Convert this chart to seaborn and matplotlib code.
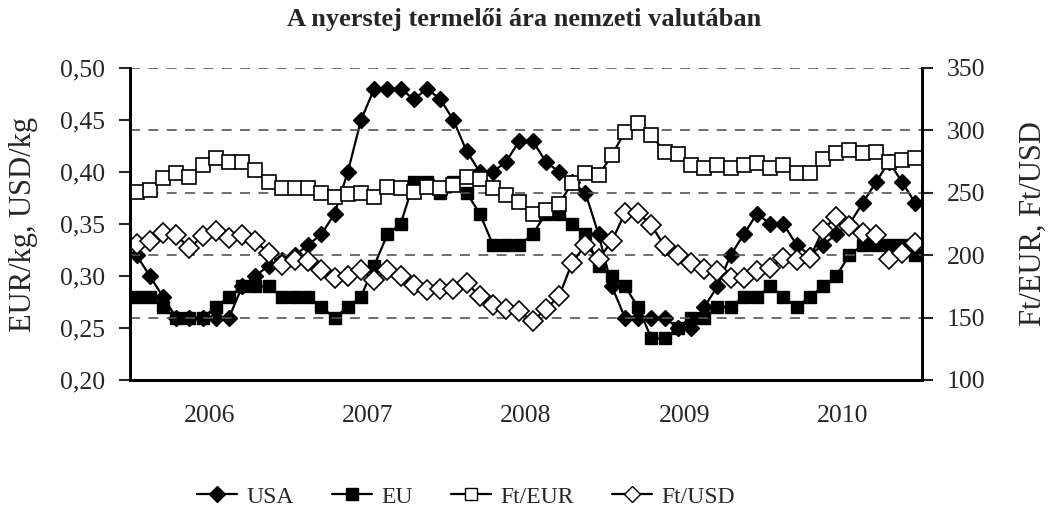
import matplotlib
matplotlib.use('Agg')
import matplotlib.pyplot as plt
import seaborn as sns
import pandas as pd
import numpy as np
from matplotlib.ticker import FuncFormatter, FixedLocator
from matplotlib.lines import Line2D

# monthly values 2006-2010 (60 months)
years = ['2006', '2007', '2008', '2009', '2010']

usa = [0.32, 0.30, 0.28, 0.26, 0.26, 0.26, 0.26, 0.26, 0.29, 0.30,
       0.31, 0.315, 0.32, 0.33, 0.34, 0.36, 0.40, 0.45, 0.48, 0.48,
       0.48, 0.47, 0.48, 0.47, 0.45, 0.42, 0.40, 0.40, 0.41, 0.43,
       0.43, 0.41, 0.40, 0.39, 0.38, 0.34, 0.29, 0.26, 0.26, 0.26,
       0.26, 0.25, 0.25, 0.27, 0.29, 0.32, 0.34, 0.36, 0.35, 0.35,
       0.33, 0.32, 0.33, 0.34, 0.35, 0.37, 0.39, 0.41, 0.39, 0.37]

eu = [0.28, 0.28, 0.27, 0.26, 0.26, 0.26, 0.27, 0.28, 0.29, 0.29,
      0.29, 0.28, 0.28, 0.28, 0.27, 0.26, 0.27, 0.28, 0.31, 0.34,
      0.35, 0.39, 0.39, 0.38, 0.39, 0.38, 0.36, 0.33, 0.33, 0.33,
      0.34, 0.36, 0.36, 0.35, 0.34, 0.31, 0.30, 0.29, 0.27, 0.24,
      0.24, 0.25, 0.26, 0.26, 0.27, 0.27, 0.28, 0.28, 0.29, 0.28,
      0.27, 0.28, 0.29, 0.30, 0.32, 0.33, 0.33, 0.33, 0.33, 0.32]

ft_eur = [251, 252, 262, 266, 263, 272, 278, 275, 275, 268,
          259, 254, 254, 254, 250, 247, 249, 250, 247, 255,
          254, 251, 255, 254, 256, 263, 261, 254, 248, 243,
          233, 236, 241, 258, 266, 264, 280, 299, 306, 296,
          283, 281, 272, 270, 272, 270, 272, 274, 270, 272,
          266, 266, 277, 282, 284, 282, 283, 275, 276, 278]

ft_usd = [209, 211, 218, 216, 206, 215, 219, 214, 216, 211,
          202, 192, 196, 195, 188, 182, 183, 188, 180, 188,
          183, 176, 172, 173, 173, 178, 167, 160, 157, 155,
          147, 157, 167, 194, 208, 197, 211, 234, 234, 224,
          207, 200, 194, 189, 187, 182, 182, 187, 190, 198,
          196, 198, 220, 231, 223, 218, 216, 197, 202, 210]

sns.set_style('white')
plt.rcParams['font.family'] = ['Liberation Serif', 'DejaVu Serif']
plt.rcParams['font.size'] = 18.5

month = np.arange(len(usa)) + 0.5
df = pd.DataFrame({'month': month, 'USA': usa, 'EU': eu,
                   'Ft/EUR': ft_eur, 'Ft/USD': ft_usd})

fig = plt.figure(figsize=(10.49, 5.19), dpi=100)
ax = fig.add_axes([130 / 1049, 1 - 380 / 519, 792 / 1049, 312 / 519])
ax2 = ax.twinx()

line_kw = dict(color='black', linewidth=1.6, markeredgecolor='black')
sns.lineplot(data=df, x='month', y='USA', ax=ax, marker='D', markersize=8,
             markerfacecolor='black', markeredgewidth=1, **line_kw)
sns.lineplot(data=df, x='month', y='EU', ax=ax, marker='s', markersize=9,
             markerfacecolor='black', markeredgewidth=1, **line_kw)
sns.lineplot(data=df, x='month', y='Ft/EUR', ax=ax2, marker='s', markersize=10,
             markerfacecolor='white', markeredgewidth=1.2, **line_kw)
sns.lineplot(data=df, x='month', y='Ft/USD', ax=ax2, marker='D', markersize=10,
             markerfacecolor='white', markeredgewidth=1.2, **line_kw)

ax.set_xlim(0, 60)
ax.set_ylim(0.20, 0.50)
ax2.set_ylim(100, 350)
ax.set_yticks(np.arange(0.20, 0.501, 0.05))
ax.yaxis.set_major_formatter(FuncFormatter(lambda v, p: f'{v:.2f}'.replace('.', ',')))
ax2.set_yticks(np.arange(100, 351, 50))

ax.xaxis.set_major_locator(FixedLocator(np.arange(0, 61, 12)))
ax.xaxis.set_minor_locator(FixedLocator(np.arange(6, 60, 12)))
ax.set_xticklabels([''] * 6)
ax.set_xticklabels(years, minor=True)
ax.tick_params(axis='x', which='major', length=10, width=1.5, direction='out')
ax.tick_params(axis='x', which='minor', length=0, pad=18)
ax.tick_params(axis='y', length=8, width=1.5, direction='out', pad=10)
ax2.tick_params(axis='y', length=8, width=1.5, direction='out', pad=10)

ax.grid(False)
ax2.grid(False)
for v in [150, 200, 250, 300, 350]:
    ax2.axhline(v, color='#555555', linestyle=(0, (6, 5)), linewidth=1.2, zorder=0)

for a in (ax, ax2):
    a.spines['top'].set_visible(False)
    for s in ('left', 'right', 'bottom'):
        a.spines[s].set_linewidth(2)
        a.spines[s].set_color('black')

ax.set_xlabel('')
ax.set_ylabel('EUR/kg, USD/kg', fontsize=22, labelpad=16)
ax2.set_ylabel('Ft/EUR, Ft/USD', fontsize=22, labelpad=24, rotation=90)

fig.suptitle('A nyerstej termelői ára nemzeti valutában', y=0.985,
             fontsize=19, fontweight='bold')

handles = [
    Line2D([], [], color='black', lw=1.6, marker='D', markersize=8, markerfacecolor='black'),
    Line2D([], [], color='black', lw=1.6, marker='s', markersize=9, markerfacecolor='black'),
    Line2D([], [], color='black', lw=1.6, marker='s', markersize=8, markerfacecolor='white'),
    Line2D([], [], color='black', lw=1.6, marker='D', markersize=8, markerfacecolor='white'),
]
fig.legend(handles, ['USA', 'EU', 'Ft/EUR', 'Ft/USD'], loc='center',
           bbox_to_anchor=(466 / 1049, 1 - 497 / 519), ncol=4, frameon=False,
           fontsize=17, handlelength=1.7, columnspacing=1.6, handletextpad=0.4)

fig.savefig('out.png', dpi=100)
